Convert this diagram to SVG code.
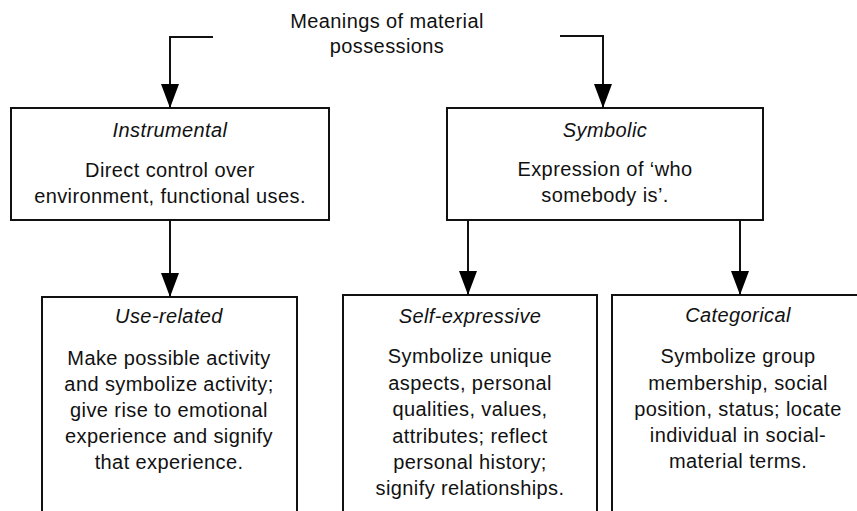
<svg xmlns="http://www.w3.org/2000/svg" width="857" height="511" viewBox="0 0 857 511">
  <defs>
    <marker id="arrow" viewBox="0 0 24 18" refX="24" refY="9" markerWidth="24" markerHeight="18" markerUnits="userSpaceOnUse" orient="auto">
      <path d="M0,0 L24,9 L0,18 z" fill="#000"/>
    </marker>
    <style>
      text { font-family: "Liberation Sans", Arial, sans-serif; font-size: 20px; letter-spacing: 0.4px; fill: #111; text-anchor: middle; }
      .head { font-style: italic; }
      .box { fill: none; stroke: #111; stroke-width: 2; }
      .link { fill: none; stroke: #111; stroke-width: 2; marker-end: url(#arrow); }
    </style>
  </defs>
  <rect width="857" height="511" fill="#fff"/>

  <g id="root">
    <text x="387" y="28">Meanings of material</text>
    <text x="387" y="53">possessions</text>
  </g>

  <g id="instrumental">
    <rect class="box" x="11" y="108" width="318" height="112"/>
    <text class="head" x="170" y="137">Instrumental</text>
    <text x="170" y="177">Direct control over</text>
    <text x="170" y="203">environment, functional uses.</text>
  </g>

  <g id="symbolic">
    <rect class="box" x="447" y="108" width="316" height="112"/>
    <text class="head" x="605" y="137">Symbolic</text>
    <text x="605" y="176">Expression of ‘who</text>
    <text x="605" y="202">somebody is’.</text>
  </g>

  <g id="use-related">
    <path class="box" d="M42,515 V297 H297 V515"/>
    <text class="head" x="169" y="323">Use-related</text>
    <text x="169" y="365">Make possible activity</text>
    <text x="169" y="391">and symbolize activity;</text>
    <text x="169" y="417">give rise to emotional</text>
    <text x="169" y="443">experience and signify</text>
    <text x="169" y="469">that experience.</text>
  </g>

  <g id="self-expressive">
    <path class="box" d="M343,515 V295 H597 V515"/>
    <text class="head" x="470" y="323">Self-expressive</text>
    <text x="470" y="363">Symbolize unique</text>
    <text x="470" y="389.5">aspects, personal</text>
    <text x="470" y="416">qualities, values,</text>
    <text x="470" y="442.5">attributes; reflect</text>
    <text x="470" y="469">personal history;</text>
    <text x="470" y="495">signify relationships.</text>
  </g>

  <g id="categorical">
    <path class="box" d="M612,515 V295 H860"/>
    <text class="head" x="738" y="322">Categorical</text>
    <text x="738" y="363">Symbolize group</text>
    <text x="738" y="389.5">membership, social</text>
    <text x="738" y="416">position, status; locate</text>
    <text x="738" y="442">individual in social-</text>
    <text x="738" y="468">material terms.</text>
  </g>

  <g id="connectors">
    <path class="link" d="M213,37 H170 V108"/>
    <path class="link" d="M560,36 H603 V108"/>
    <path class="link" d="M170,220 V297"/>
    <path class="link" d="M468,220 V295"/>
    <path class="link" d="M740,220 V295"/>
  </g>
</svg>
